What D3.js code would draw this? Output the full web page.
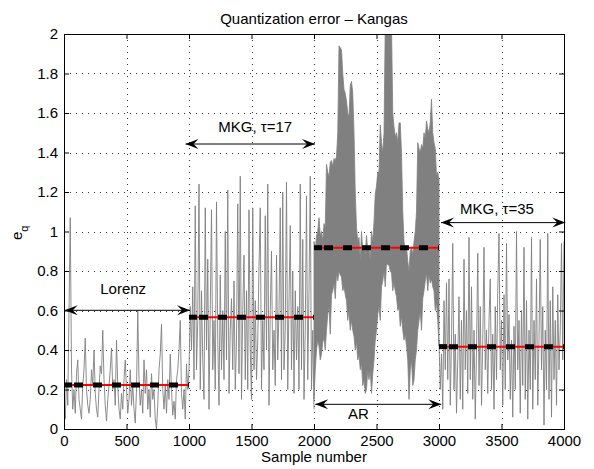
<!DOCTYPE html>
<html>
<head>
<meta charset="utf-8">
<script src="https://cdn.jsdelivr.net/npm/d3@7"></script>
<style>
  body { margin: 0; background: #fff; }
  svg { display: block; font-family: "Liberation Sans", Arial, Helvetica, sans-serif; }
</style>
</head>
<body>
<svg id="chart-svg"></svg>
<script>
// Data (one value every 10 samples)
const lorenz = [0.18,0.05,0.25,0.12,0.6,1.07,0.3,0.1,0.2,0.08,0.28,0.35,0.15,0.1,0.05,0.22,0.3,0.46,0.2,0.12,
  0.08,0.15,0.3,0.22,0.4,0.18,0.1,0.06,0.2,0.32,0.28,0.5,0.25,0.12,0.04,0.15,0.22,0.3,0.41,0.2,
  0.25,0.12,0.45,0.22,0.1,0.05,0.18,0.1,0.25,0.35,0.2,0.08,0.15,0.3,0.12,0.22,0.1,0.03,0.2,0.6,
  0.25,0.12,0.2,0.08,0.35,0.18,0.3,0.1,0.2,0.06,0.28,0.15,0.2,0.05,0.0,0.12,0.3,0.38,0.53,0.2,
  0.1,0.22,0.08,0.25,0.15,0.38,0.2,0.07,0.14,0.05,0.25,0.3,0.4,0.55,0.18,0.1,0.2,0.05,0.33,0.2,0.3];

const mkg17 = [0.3,0.62,0.4,0.72,0.25,1.13,0.3,0.55,1.24,0.2,0.7,0.35,0.15,1.12,0.4,0.86,0.1,0.6,1.11,0.3,
  0.55,0.2,1.15,0.45,0.12,0.78,0.3,0.6,0.25,1.0,0.35,1.21,0.18,0.5,0.66,0.3,0.75,0.2,0.45,1.14,
  0.28,1.28,0.15,0.6,0.88,0.25,0.7,0.2,1.11,0.4,0.15,1.12,0.3,0.65,0.25,0.45,0.82,1.12,0.2,0.55,
  0.3,1.08,0.4,1.24,0.12,0.6,0.9,0.3,0.5,0.22,0.88,0.35,0.6,1.12,0.25,1.2,0.3,0.5,1.25,0.2,
  0.65,1.03,0.3,0.8,0.18,0.7,0.35,0.62,0.2,1.24,0.3,0.96,0.15,0.5,1.18,0.25,0.7,1.28,0.2,0.5,0.1];

// AR part is too dense to follow, so upper and lower envelope every 10 samples
const arUpper = [0.95,0.9,0.98,1.0,1.07,0.98,1.0,0.95,1.04,1.02,
  1.34,1.3,1.28,1.35,1.36,1.33,1.37,1.36,1.38,1.5,
  1.94,1.93,1.92,1.8,1.72,1.7,1.66,1.6,1.58,1.74,
  1.76,1.7,1.5,1.2,1.02,0.95,0.97,0.85,1.0,0.9,
  0.93,0.88,0.98,0.9,0.92,0.85,1.0,0.95,1.05,1.19,
  1.23,1.3,1.3,1.54,1.45,1.4,1.5,2.05,2.05,2.05,
  2.05,2.05,2.05,1.6,1.53,1.48,1.5,1.45,1.55,1.55,
  1.4,1.1,0.95,0.9,0.92,0.85,0.8,0.9,0.92,0.88,
  0.95,1.0,1.1,1.45,1.42,1.4,1.44,1.42,1.5,1.47,
  1.56,1.52,1.5,1.55,1.67,1.5,1.45,1.42,1.28,1.3,
  1.26];
const arLower = [0.15,0.3,0.4,0.45,0.42,0.35,0.38,0.44,0.46,0.4,
  0.5,0.58,0.62,0.48,0.68,0.7,0.74,0.66,0.79,0.75,
  0.8,0.78,0.77,0.7,0.72,0.68,0.65,0.55,0.6,0.5,
  0.55,0.5,0.47,0.4,0.44,0.35,0.38,0.3,0.33,0.22,
  0.25,0.18,0.2,0.3,0.25,0.3,0.18,0.28,0.35,0.45,
  0.5,0.58,0.62,0.55,0.72,0.75,0.8,0.72,0.84,0.83,
  0.83,0.8,0.79,0.7,0.74,0.7,0.67,0.6,0.62,0.52,
  0.57,0.5,0.45,0.48,0.42,0.35,0.15,0.3,0.35,0.22,
  0.25,0.35,0.4,0.5,0.55,0.6,0.5,0.66,0.7,0.75,
  0.79,0.7,0.78,0.74,0.76,0.72,0.7,0.6,0.64,0.55,
  0.42];

const mkg35 = [0.45,0.2,0.38,0.1,0.65,0.3,0.74,0.25,0.76,0.12,0.45,0.94,0.2,0.48,0.08,0.35,0.67,0.15,0.55,0.1,
  0.86,0.3,0.6,0.18,0.97,0.25,0.72,0.15,0.5,0.05,0.4,0.89,0.22,0.62,0.12,0.45,0.92,0.3,0.5,0.18,
  0.55,0.76,0.2,0.48,0.1,0.62,0.25,0.7,0.99,0.3,0.55,0.12,0.68,0.2,0.94,0.35,0.58,0.15,0.45,0.06,
  0.52,0.2,1.0,0.3,0.55,0.08,0.6,0.22,0.92,0.15,0.65,0.05,0.5,0.2,0.97,0.1,0.55,0.25,0.76,0.12,
  0.45,0.96,0.3,0.62,0.02,0.5,0.2,0.99,0.15,0.65,0.06,0.72,0.25,0.55,0.12,0.68,0.3,0.5,0.94,0.35,0.95];

// segment means
const segStart = [0, 1000, 2000, 3000];
const segEnd = [1000, 2000, 3000, 4000];
const segMean = [0.223, 0.566, 0.918, 0.417];

// annotations
const labelText = ["Lorenz", "MKG, \u03c4=17", "AR", "MKG, \u03c4=35"];
const labelX = [290, 1234, 2272, 3168];
const labelY = [0.684, 1.504, 0.05, 1.089];
const arrowFrom = [6, 972, 2010, 3016];
const arrowTo = [1008, 2008, 3018, 4010];
const arrowY = [0.601, 1.443, 0.125, 1.045];

// ticks
const xTicks = [0, 500, 1000, 1500, 2000, 2500, 3000, 3500, 4000];
const xTickLabels = ["0", "500", "1000", "1500", "2000", "2500", "3000", "3500", "4000"];
const yTicks = [0, 0.2, 0.4, 0.6, 0.8, 1, 1.2, 1.4, 1.6, 1.8, 2];
const yTickLabels = ["0", "0.2", "0.4", "0.6", "0.8", "1", "1.2", "1.4", "1.6", "1.8", "2"];

const STEP = 10;
const AR_STEP = 10;

const svg = d3.select("#chart-svg");
const margin = { top: 34, right: 30, bottom: 40, left: 64 };
const W = 594, H = 469;
const width = W - margin.left - margin.right;
const height = H - margin.top - margin.bottom;

function renderChart() {
  svg.attr("width", W).attr("height", H);

  const x = d3.scaleLinear().domain([0, 4000]).range([0, width]);
  const y = d3.scaleLinear().domain([0, 2]).range([height, 0]);

  const defs = svg.append("defs");
  defs.append("clipPath").attr("id", "plot-clip")
    .append("rect").attr("width", width).attr("height", height);
  defs.append("marker")
    .attr("id", "head")
    .attr("viewBox", "-14 -6 15 12")
    .attr("markerUnits", "userSpaceOnUse")
    .attr("markerWidth", 15).attr("markerHeight", 12)
    .attr("refX", 0).attr("refY", 0)
    .attr("orient", "auto-start-reverse")
    .append("path")
    .attr("d", "M0,0 L-13,-5 L-8,0 L-13,5 Z")
    .attr("fill", "#000");

  let g = svg.append("g").attr("transform", `translate(${margin.left},${margin.top})`);

  // grid
  g.selectAll(".gx").data(xTicks.filter(d => d > 0 && d < 4000)).enter()
    .append("line")
    .attr("x1", d => Math.round(x(d)) + 0.5).attr("x2", d => Math.round(x(d)) + 0.5)
    .attr("y1", 0).attr("y2", height)
    .attr("stroke", "#333").attr("stroke-dasharray", "1,5");
  g.selectAll(".gy").data(yTicks.filter(d => d > 0 && d < 2)).enter()
    .append("line")
    .attr("y1", d => Math.round(y(d)) + 0.5).attr("y2", d => Math.round(y(d)) + 0.5)
    .attr("x1", 0).attr("x2", width)
    .attr("stroke", "#333").attr("stroke-dasharray", "1,5");

  const plot = g.append("g").attr("clip-path", "url(#plot-clip)");

  // signal
  const segLine = (start) => d3.line().x((d, i) => x(start + i * STEP)).y(d => y(d));
  [[lorenz, 0], [mkg17, 1000], [mkg35, 3000]].forEach(([vals, start]) => {
    plot.append("path").datum(vals)
      .attr("d", segLine(start))
      .attr("fill", "none").attr("stroke", "#808080").attr("stroke-width", 0.9);
  });
  const arArea = d3.area()
    .x((d, i) => x(2000 + i * AR_STEP))
    .y0((d, i) => y(arLower[i]))
    .y1(d => y(d));
  plot.append("path").datum(arUpper)
    .attr("d", arArea)
    .attr("fill", "#808080").attr("stroke", "#808080").attr("stroke-width", 0.8);

  // mean lines: red with thick black dashes on top
  segMean.forEach((m, i) => {
    const x0 = x(segStart[i]), x1 = x(segEnd[i]), ym = y(m);
    g.append("line").attr("x1", x0).attr("x2", x1).attr("y1", ym).attr("y2", ym)
      .attr("stroke", "#ff0000").attr("stroke-width", 2);
    g.append("line").attr("x1", x0).attr("x2", x0 + 8).attr("y1", ym).attr("y2", ym)
      .attr("stroke", "#000").attr("stroke-width", 5);
    g.append("line").attr("x1", x0 + 10).attr("x2", x1).attr("y1", ym).attr("y2", ym)
      .attr("stroke", "#000").attr("stroke-width", 5).attr("stroke-dasharray", "9,10");
  });

  // arrows + labels
  arrowY.forEach((v, i) => {
    g.append("line")
      .attr("x1", x(arrowFrom[i])).attr("x2", x(arrowTo[i]))
      .attr("y1", y(v)).attr("y2", y(v))
      .attr("stroke", "#000").attr("stroke-width", 1)
      .attr("marker-start", "url(#head)").attr("marker-end", "url(#head)");
  });
  g.selectAll(".lbl").data(labelText).enter()
    .append("text")
    .attr("x", (d, i) => x(labelX[i])).attr("y", (d, i) => y(labelY[i]))
    .attr("font-size", 15).attr("fill", "#000")
    .text(d => d);

  // axes with inward ticks on all sides
  const fmtX = (d) => xTickLabels[xTicks.indexOf(d)];
  const fmtY = (d) => yTickLabels[yTicks.indexOf(d)];
  const styleAxis = (sel) => {
    sel.select(".domain").remove();
    sel.selectAll("text").attr("font-size", 15).attr("fill", "#000").attr("font-family", null);
    sel.selectAll("line").attr("stroke", "#000");
  };
  g.append("g").attr("transform", `translate(0,${height})`)
    .call(d3.axisBottom(x).tickValues(xTicks).tickFormat(fmtX).tickSize(-5).tickPadding(6))
    .call(styleAxis);
  g.append("g")
    .call(d3.axisLeft(y).tickValues(yTicks).tickFormat(fmtY).tickSize(-5).tickPadding(6))
    .call(styleAxis);
  g.append("g")
    .call(d3.axisTop(x).tickValues(xTicks).tickFormat("").tickSize(-5))
    .call(styleAxis);
  g.append("g").attr("transform", `translate(${width},0)`)
    .call(d3.axisRight(y).tickValues(yTicks).tickFormat("").tickSize(-5))
    .call(styleAxis);

  g.append("rect").attr("x", 0.5).attr("y", 0.5).attr("width", width).attr("height", height)
    .attr("fill", "none").attr("stroke", "#000").attr("stroke-width", 1);

  // titles
  svg.append("text").attr("x", margin.left + width / 2).attr("y", 24)
    .attr("text-anchor", "middle").attr("font-size", 15)
    .text("Quantization error \u2013 Kangas");
  svg.append("text").attr("x", margin.left + width / 2).attr("y", 462)
    .attr("text-anchor", "middle").attr("font-size", 15)
    .text("Sample number");
  const yl = svg.append("text")
    .attr("transform", "translate(22,240) rotate(-90)")
    .attr("font-size", 15);
  yl.append("tspan").text("e");
  yl.append("tspan").attr("font-size", 11).attr("dy", 6).text("q");
}

renderChart();
</script>
</body>
</html>
